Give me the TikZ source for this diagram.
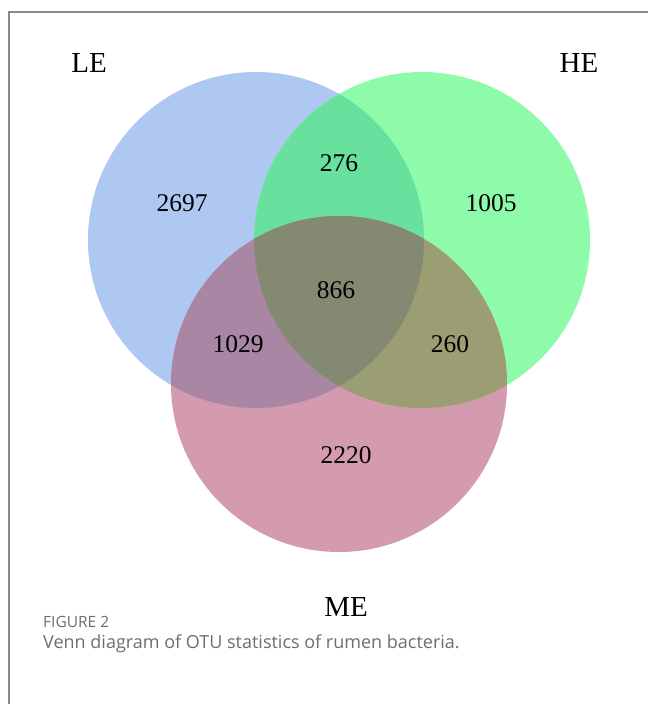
\documentclass[tikz,border=0pt]{standalone}
\usepackage{fontspec}
\setmainfont{Liberation Serif}
\newfontfamily\capfont{Open Sans}
\definecolor{leC}{HTML}{AEC8F2}
\definecolor{heC}{HTML}{8EFBAA}
\definecolor{meC}{HTML}{D49AAE}
\definecolor{lhC}{HTML}{68E09E}
\definecolor{lmC}{HTML}{A986A4}
\definecolor{hmC}{HTML}{9B9E72}
\definecolor{allC}{HTML}{848A72}
\definecolor{frameC}{HTML}{8A8A8A}
\definecolor{capC}{HTML}{6E6E6E}
\begin{document}
\begin{tikzpicture}[x=1pt,y=-1pt,
  setlabel/.style={font=\fontsize{29}{32}\selectfont, inner sep=0pt},
  count/.style={font=\fontsize{25.5}{28}\selectfont, inner sep=0pt}]
\useasboundingbox (0,0) rectangle (648,704);
\fill[white] (0,0) rectangle (648,704);
\draw[frameC, line width=1.3pt] (9,704) -- (9,12) -- (648,12);
\def\LE{(256,240) circle[radius=168]}
\def\HE{(422,240) circle[radius=168]}
\def\ME{(339,384) circle[radius=168]}
\fill[leC] \LE;
\fill[heC] \HE;
\fill[meC] \ME;
\begin{scope}\clip \LE; \fill[lhC] \HE; \end{scope}
\begin{scope}\clip \LE; \fill[lmC] \ME; \end{scope}
\begin{scope}\clip \HE; \fill[hmC] \ME; \end{scope}
\begin{scope}\clip \LE; \clip \HE; \fill[allC] \ME; \end{scope}
\node[setlabel] (le) at (89,63) {LE};
\node[setlabel] (he) at (579,63) {HE};
\node[setlabel] (me) at (346,607) {ME};
\node[count] (n2697) at (182,203) {2697};
\node[count] (n276) at (339,163) {276};
\node[count] (n1005) at (491,203) {1005};
\node[count] (n866) at (336,290) {866};
\node[count] (n1029) at (238,344) {1029};
\node[count] (n260) at (450,344) {260};
\node[count] (n2220) at (346,455) {2220};
\node[anchor=west, inner sep=0pt, text=capC, font=\capfont\fontsize{15.5}{18}\selectfont] (fig) at (43,622) {FIGURE 2};
\node[anchor=west, inner sep=0pt, text=capC, font=\capfont\fontsize{18}{21}\selectfont] (cap) at (43,644) {Venn diagram of OTU statistics of rumen bacteria.};
\end{tikzpicture}
\end{document}
